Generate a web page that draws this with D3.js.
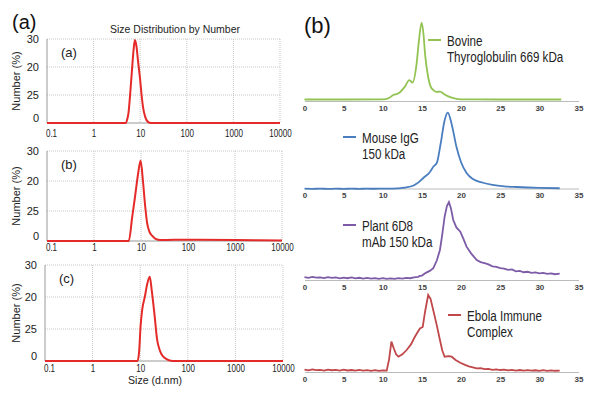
<!DOCTYPE html>
<html>
<head>
<meta charset="utf-8">
<script src="https://cdn.jsdelivr.net/npm/d3@7"></script>
<style>
  body { margin: 0; background: #fff; }
  text { font-family: Arial, "Liberation Sans", sans-serif; }
</style>
</head>
<body>
<div id="chart"></div>
<script>
// ---- data ----
// DLS size distributions: [size (d.nm), number (%)]
var dlsA = [[0.1,0],[4.9,0],[5.3,1.5],[5.6,3.5],[6.0,9],[6.6,18],[7.2,26],[7.7,29.6],[8.3,27.5],[9.0,22],[9.9,16],[10.7,10],[11.5,5.7],[12.8,2.2],[14.7,0.4],[17,0],[10000,0]];
var dlsB = [[0.1,0],[5.5,0],[6.5,8],[7.5,15],[8.6,22],[9.8,26.8],[11,20],[12.2,12],[13.5,6],[15,3.2],[17.4,1.7],[20,0.8],[26,0.3],[50,0.4],[100,0.4],[1000,0.3],[10000,0.2]];
var dlsC = [[0.1,0],[8.8,0],[9.5,3],[10.2,11],[11,16],[12.5,20],[14,24],[15.9,26.3],[17.5,22],[20.2,13.8],[22.5,7],[25.7,3.4],[30,1.5],[35.6,0.6],[48,0],[10000,0]];

var sizeTicks = [0.1, 1, 10, 100, 1000, 10000];
var sizeLabels = ["0.1", "1", "10", "100", "1000", "10000"];
var numberTicks = [30, 20, 10, 0];
var numberLabels = ["30", "20", "25", "0"];
var dlsTags = ["(a)", "(b)", "(c)"];

// SEC traces: [elution volume, relative signal]
var bovine = [[0,0],[5,0],[10,0.2],[10.7,1.5],[11.35,5.8],[12,8],[12.8,16.5],[13.4,25.3],[13.8,22],[14.3,45],[14.6,75],[14.96,100],[15.2,85],[15.4,59],[15.8,29],[16.1,17],[16.45,12.3],[16.9,10],[17.3,10.2],[17.9,6.5],[18.6,3],[19.3,1],[19.9,0.2],[25,0],[32.8,0]];
var mouse = [[0,0.4],[1,0.2],[2,0.5],[3,0.1],[4,0.4],[5,0.2],[6,0.5],[7,0.2],[8,0.4],[9,0.3],[10,0.5],[11,0.4],[11.8,0.8],[12.5,1.5],[13,2],[14,5],[14.6,9],[15.2,14.7],[16,22],[16.5,29.8],[16.9,34.2],[17.4,60],[17.9,90],[18.3,100],[18.8,85],[19.4,55.6],[20,35],[20.7,21],[21.5,13],[22.8,8.2],[24,5.5],[25.5,3.5],[27.1,2.6],[30,1.5],[32.6,1]];
var plant = [[0,2.5],[0.5,1.6],[1,2.8],[1.5,1.9],[2,2.2],[2.5,1.2],[3,2.4],[3.5,1.5],[4,2.0],[4.5,0.9],[5,1.8],[5.5,1.0],[6,2.1],[6.5,0.8],[7,1.6],[7.5,0.6],[8,1.5],[8.5,0.4],[9,1.2],[9.5,0.2],[10,1.0],[10.5,0.1],[11,0.9],[11.5,0.3],[12,1.2],[12.5,0.5],[13,1.4],[13.5,1.0],[14,2.2],[14.5,2.8],[14.75,4],[15,4.5],[15.5,8],[16,10.5],[16.45,14],[16.9,24],[17.3,37.7],[17.6,58],[17.9,81],[18.2,95],[18.45,100],[18.7,92],[19,76.6],[19.4,67],[19.9,61.4],[20.3,52],[20.7,42],[21.3,33],[22,24.7],[22.5,22],[23,20.5],[23.5,19],[24,16.5],[24.5,15.8],[25,14],[25.5,13.5],[26,11.8],[26.5,12.4],[27,10],[27.5,10.6],[28,8.8],[28.5,9.4],[29,8.0],[29.5,8.6],[30,7.2],[30.5,7.9],[31,6.6],[31.5,7.4],[32,6.2],[32.6,7.0]];
var ebola = [[0,1.8],[0.5,0.8],[1,2.0],[1.5,1.1],[2,1.6],[2.5,0.6],[3,1.9],[3.5,1.0],[4,1.4],[4.5,0.5],[5,1.7],[5.5,0.7],[6,1.3],[6.5,0.4],[7,1.5],[7.5,0.6],[8,1.2],[8.5,0.3],[9,1.1],[9.5,0.2],[10,0.9],[10.5,0.5],[10.8,15],[11.1,38.6],[11.4,30],[11.7,22],[12,18.8],[12.5,22],[13.05,27.6],[13.6,35],[14.1,45],[14.5,52],[14.75,56],[15.1,58],[15.4,78],[15.8,100],[16.1,95],[16.45,80],[16.9,60],[17.3,40.8],[17.6,27],[17.9,18.8],[18.4,19.5],[18.8,18.8],[19.3,14.5],[19.9,10.9],[20.5,8],[21,6],[21.5,4.8],[22,3.5],[22.5,3.8],[23,2.4],[23.5,2.9],[24,1.6],[24.5,2.2],[25,1.3],[25.5,1.9],[26,0.8],[26.5,1.5],[27,0.6],[27.5,1.3],[28,0.5],[28.5,1.2],[29,0.4],[29.5,1.0],[30,0.3],[30.5,1.1],[31,0.2],[31.5,0.9],[32,0.3],[32.6,0.6]];

var volumeTicks = [0, 5, 10, 15, 20, 25, 30, 35];
var secNames = [["Bovine", "Thyroglobulin 669 kDa"], ["Mouse IgG", "150 kDa"], ["Plant 6D8", "mAb 150 kDa"], ["Ebola Immune", "Complex"]];
var secColors = ["#92c353", "#4a7ebf", "#7d5ba6", "#c0474a"];

// the figure text is horizontally squeezed, so compress glyphs to match
function squeeze(sel, f) {
  sel.each(function() {
    var w = this.getComputedTextLength();
    d3.select(this).attr("textLength", w * f).attr("lengthAdjust", "spacingAndGlyphs");
  });
}

// ---- svg ----
var svg = d3.select("#chart")
  .append("svg")
  .attr("width", 600)
  .attr("height", 400);

// panel labels
svg.append("text").attr("x", 12).attr("y", 29).attr("font-size", 20).attr("fill", "#111").text("(a)");
svg.append("text").attr("x", 304).attr("y", 33).attr("font-size", 22).attr("fill", "#111").text("(b)");

// left column boxes
var dlsBoxes = [
  {x0: 47, x1: 280, y0: 39, y1: 123, pad: 6},
  {x0: 47, x1: 282, y0: 151, y1: 241, pad: 2},
  {x0: 45, x1: 283, y0: 265, y1: 361, pad: 3}
];
var dlsSets = [dlsA, dlsB, dlsC];

dlsSets.forEach(function(data, i) {
  var b = dlsBoxes[i];
  var x = d3.scaleLog().domain([0.1, 10000]).range([b.x0, b.x1]);
  var y = d3.scaleLinear().domain([0, 30]).range([b.y1, b.y0]);
  var g = svg.append("g");

  // dotted grid
  g.selectAll(".vg").data(sizeTicks.slice(1)).enter().append("line")
    .attr("x1", d => x(d)).attr("x2", d => x(d))
    .attr("y1", b.y0).attr("y2", b.y1)
    .attr("stroke", "#c8c8c8").attr("stroke-dasharray", "1,1");
  g.selectAll(".hg").data([10, 20, 30]).enter().append("line")
    .attr("x1", b.x0).attr("x2", b.x1)
    .attr("y1", d => y(d)).attr("y2", d => y(d))
    .attr("stroke", "#c8c8c8").attr("stroke-dasharray", "1,1");

  // axis lines
  g.append("line").attr("x1", b.x0).attr("x2", b.x0).attr("y1", b.y0).attr("y2", b.y1)
    .attr("stroke", "#999");
  g.append("line").attr("x1", b.x0).attr("x2", b.x1).attr("y1", b.y1).attr("y2", b.y1)
    .attr("stroke", "#999");

  var leftAxis = d3.axisLeft(y).tickValues(numberTicks)
    .tickFormat((d, k) => numberLabels[k]).tickSize(0).tickPadding(8);
  var ya = g.append("g").attr("transform", `translate(${b.x0},0)`).call(leftAxis);
  ya.select(".domain").remove();
  ya.selectAll("text").attr("font-size", 11).attr("fill", "#222")
    .attr("dy", d => d === 0 ? "-0.1em" : "0.32em");

  var bottomAxis = d3.axisBottom(x).tickValues(sizeTicks)
    .tickFormat((d, k) => sizeLabels[k]).tickSize(0).tickPadding(b.pad);
  var xa = g.append("g").attr("transform", `translate(0,${b.y1})`).call(bottomAxis);
  xa.select(".domain").remove();
  xa.selectAll("text").attr("font-size", 11.5).attr("fill", "#222").call(squeeze, 0.7);
  xa.select(".tick text").attr("dx", 4);

  // curve
  var line = d3.line().x(d => x(d[0])).y(d => y(d[1])).curve(d3.curveMonotoneX);
  g.append("path").datum(data).attr("d", line)
    .attr("fill", "none").attr("stroke", "#e52a2a").attr("stroke-width", 2);

  // inner tag
  g.append("text").attr("x", b.x0 + 14).attr("y", b.y0 + 18)
    .attr("font-size", 13).attr("fill", "#222").text(dlsTags[i]);

  // y title
  g.append("text")
    .attr("transform", `translate(20,${(b.y0 + b.y1) / 2}) rotate(-90)`)
    .attr("text-anchor", "middle").attr("font-size", 11).attr("fill", "#222")
    .text("Number (%)");
});

svg.append("text").attr("x", 110).attr("y", 33)
  .attr("font-size", 11.5).attr("fill", "#222").text("Size Distribution by Number")
  .attr("textLength", 130).attr("lengthAdjust", "spacingAndGlyphs");
svg.append("text").attr("x", 128).attr("y", 384)
  .attr("font-size", 11.5).attr("fill", "#222").text("Size (d.nm)")
  .attr("textLength", 54).attr("lengthAdjust", "spacingAndGlyphs");

// right column
var secSets = [bovine, mouse, plant, ebola];
var secBoxes = [
  {axis: 101, base: 99.5, top: 22.7, leg: [428, 40]},
  {axis: 188.5, base: 189, top: 112.7, leg: [343, 137]},
  {axis: 280, base: 279, top: 202, leg: [343, 225]},
  {axis: 372, base: 371, top: 295, leg: [448, 315]}
];

secSets.forEach(function(data, i) {
  var b = secBoxes[i];
  var x = d3.scaleLinear().domain([0, 35]).range([304.5, 578.5]);
  var y = d3.scaleLinear().domain([0, 100]).range([b.base, b.top]);
  var g = svg.append("g");

  var bottomAxis = d3.axisBottom(x).tickValues(volumeTicks).tickSize(0).tickPadding(4);
  var xa = g.append("g").attr("transform", `translate(0,${b.axis})`).call(bottomAxis);
  xa.select(".domain").attr("stroke", "#bbb");
  xa.selectAll("text").attr("font-size", 8).attr("font-weight", "bold").attr("fill", "#444");

  var line = d3.line().x(d => x(d[0])).y(d => y(d[1]))
    .curve(i < 2 ? d3.curveMonotoneX : d3.curveLinear);
  g.append("path").datum(data).attr("d", line)
    .attr("fill", "none").attr("stroke", secColors[i]).attr("stroke-width", 1.8);

  // legend
  g.append("line").attr("x1", b.leg[0]).attr("x2", b.leg[0] + 13)
    .attr("y1", b.leg[1]).attr("y2", b.leg[1])
    .attr("stroke", secColors[i]).attr("stroke-width", 2);
  g.append("text").attr("x", b.leg[0] + 19).attr("y", b.leg[1] + 5.5)
    .attr("font-size", 14).attr("fill", "#222").text(secNames[i][0])
    .call(squeeze, 0.83);
  g.append("text").attr("x", b.leg[0] + 19).attr("y", b.leg[1] + 22)
    .attr("font-size", 14).attr("fill", "#222").text(secNames[i][1])
    .call(squeeze, 0.83);
});
</script>
</body>
</html>
